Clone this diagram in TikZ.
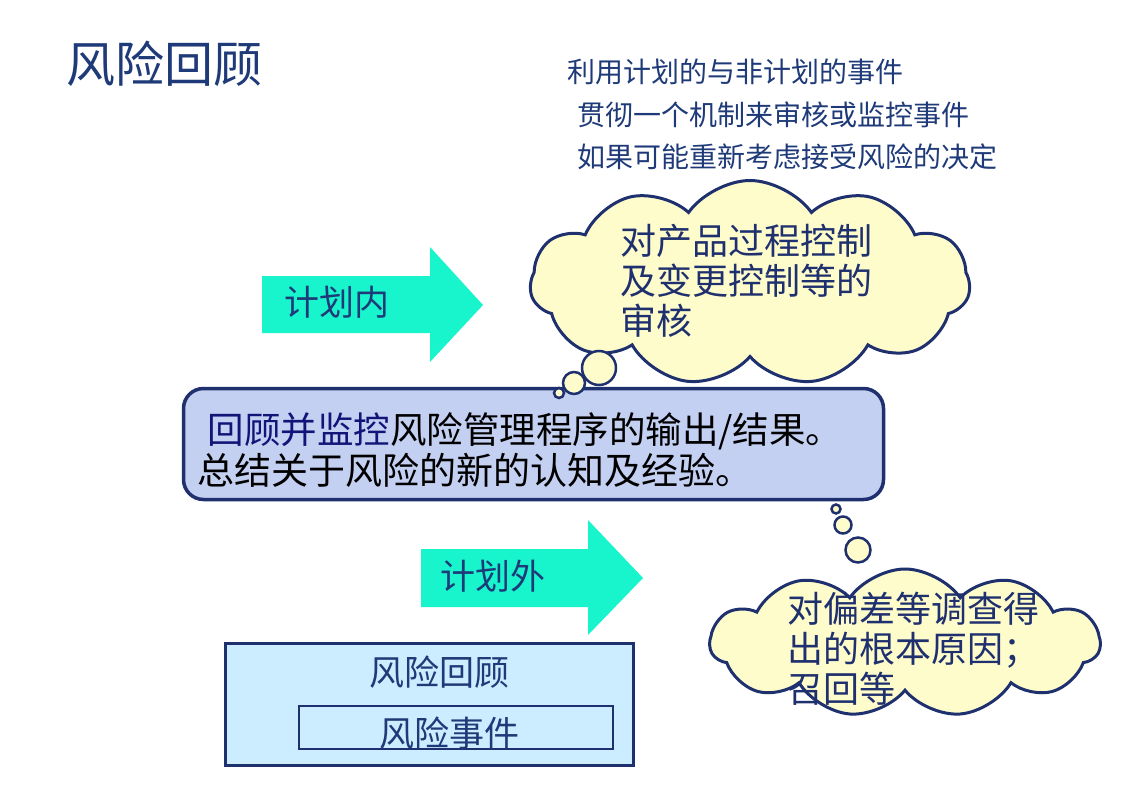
\documentclass[tikz,border=0pt]{standalone}
\usepackage{fontspec}
\setmainfont{Noto Sans CJK SC}
\usetikzlibrary{shapes.symbols}
\definecolor{navy}{RGB}{31,48,110}
\definecolor{txtnavy}{RGB}{31,58,120}
\definecolor{deepblue}{RGB}{20,20,120}
\definecolor{arrowcyan}{RGB}{24,245,205}
\definecolor{cloudyellow}{RGB}{255,252,204}
\definecolor{boxblue}{RGB}{196,208,242}
\definecolor{lightblue}{RGB}{204,236,255}
\tikzset{
  cloudbox/.style={cloud, cloud puffs=11, cloud puff arc=110, draw=navy, line width=3pt, fill=cloudyellow, inner sep=0pt},
  bubble/.style={circle, draw=navy, line width=2.5pt, fill=cloudyellow, inner sep=0pt},
  arrowshape/.style={fill=arrowcyan, draw=none},
  arrowtext/.style={font=\fontsize{35}{40}\selectfont, text=txtnavy, anchor=west},
  cloudtext/.style={font=\fontsize{36}{40}\selectfont, text=navy, align=left, anchor=west},
  toptext/.style={font=\fontsize{28}{32}\selectfont, text=txtnavy, anchor=west},
}
\begin{document}
\begin{tikzpicture}[x=1pt,y=-1pt]
\useasboundingbox (0,0) rectangle (1123,794);
\fill[white] (0,0) rectangle (1123,794);

% title
\node[font=\fontsize{49}{52}\selectfont, text=txtnavy, anchor=west] (title) at (63,64) {风险回顾};

% top text
\node[toptext] (t1) at (564,72) {利用计划的与非计划的事件};
\node[toptext] (t2) at (574,115) {贯彻一个机制来审核或监控事件};
\node[toptext] (t3) at (574,157) {如果可能重新考虑接受风险的决定};

% arrows
\draw[arrowshape] (262,276) -- (430,276) -- (430,247) -- (483,305) -- (430,362) -- (430,333) -- (262,333) -- cycle;
\node[arrowtext] (a1) at (281,302) {计划内};
\draw[arrowshape] (421,549) -- (588,549) -- (588,520) -- (643,578) -- (588,635) -- (588,607) -- (421,607) -- cycle;
\node[arrowtext] (a2) at (437,576) {计划外};

% cloud 1
\node[cloudbox, minimum width=440pt, minimum height=205pt, aspect=2.2] (c1) at (750,283) {};
\node[cloudtext] (c1t) at (617,281) {对产品过程控制\\及变更控制等的\\审核};

% main box
\node[draw=navy, line width=3.5pt, fill=boxblue, rounded corners=20pt, minimum width=700pt, minimum height=111pt] (main) at (533.5,444) {};
\node[font=\fontsize{36.5}{40}\selectfont, anchor=west] (m1) at (204,431) {\textcolor{deepblue}{回顾并监控}风险管理程序的输出/结果。};
\node[font=\fontsize{37}{40}\selectfont, anchor=west] (m2) at (194,470) {总结关于风险的新的认知及经验。};

% cloud 1 bubbles (on top of the box)
\node[bubble, minimum size=34pt] (b13) at (599,368) {};
\node[bubble, minimum size=22pt] (b12) at (574,383) {};
\node[bubble, minimum size=10pt] (b11) at (559,393) {};

% cloud 2 bubbles
\node[bubble, minimum size=9pt] (b21) at (836,509) {};
\node[bubble, minimum size=17pt] (b22) at (843,525) {};
\node[bubble, minimum size=25pt] (b23) at (858,550) {};

% cloud 2
\node[cloudbox, minimum width=390pt, minimum height=148pt, aspect=2.7] (c2) at (905,643) {};
\node[cloudtext] (c2t) at (784,649) {对偏差等调查得\\出的根本原因；\\召回等};

% bottom box
\node[draw=navy, line width=3pt, fill=lightblue, minimum width=408pt, minimum height=122pt] (outer) at (429,704) {};
\node[font=\fontsize{35}{40}\selectfont, text=txtnavy] (o1) at (439,672) {风险回顾};
\node[draw=navy, line width=2pt, minimum width=314pt, minimum height=43pt] (inner) at (456,727.5) {};
\node[font=\fontsize{35}{40}\selectfont, text=txtnavy] (i1) at (449,733) {风险事件};
\end{tikzpicture}
\end{document}
